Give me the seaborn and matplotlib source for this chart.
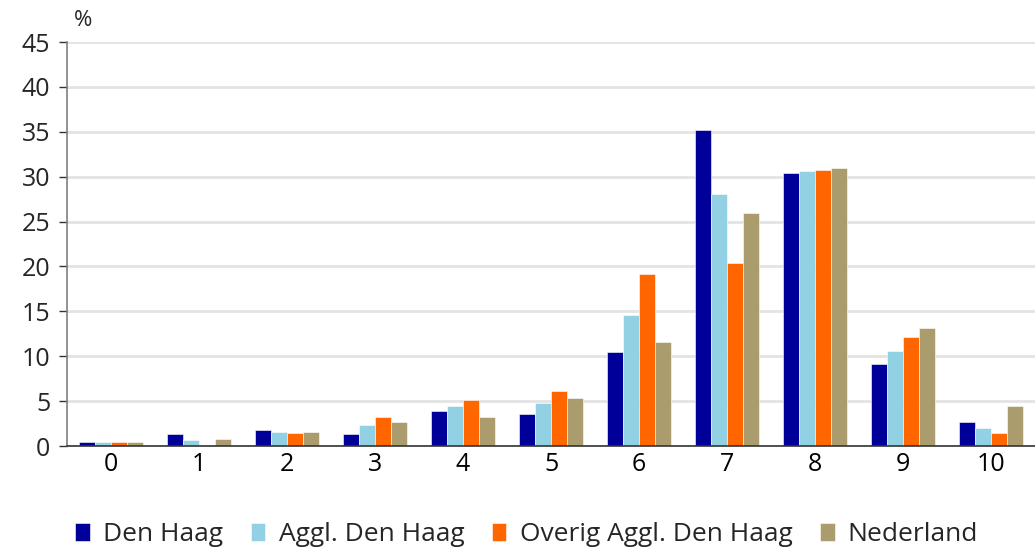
import numpy as np
import pandas as pd
import seaborn as sns
import matplotlib.pyplot as plt
from matplotlib.ticker import FixedLocator

categories = ["0", "1", "2", "3", "4", "5", "6", "7", "8", "9", "10"]
series = ["Den Haag", "Aggl. Den Haag", "Overig Aggl. Den Haag", "Nederland"]
den_haag = [0.5, 1.3, 1.75, 1.3, 3.9, 3.55, 10.45, 35.25, 30.45, 9.1, 2.65]
aggl = [0.45, 0.7, 1.6, 2.3, 4.45, 4.75, 14.6, 28.1, 30.6, 10.6, 2.0]
overig = [0.45, 0.0, 1.45, 3.25, 5.1, 6.1, 19.15, 20.4, 30.7, 12.1, 1.45]
nederland = [0.45, 0.8, 1.6, 2.7, 3.2, 5.4, 11.55, 25.95, 31.0, 13.1, 4.45]
colors = ["#000099", "#92D1E3", "#FF6600", "#AB9C6E"]

df = pd.DataFrame({
    "cijfer": categories * 4,
    "serie": np.repeat(series, len(categories)),
    "pct": den_haag + aggl + overig + nederland,
})

sns.set_style("white")
plt.rcParams["font.family"] = ["Open Sans", "DejaVu Sans"]

fig = plt.figure(figsize=(10.35, 5.49), dpi=100)
ax = fig.add_axes([67 / 1035, 103 / 549, 968 / 1035, 404 / 549])

sns.barplot(data=df, x="cijfer", y="pct", hue="serie", order=categories,
            hue_order=series, palette=colors, width=0.73, ax=ax,
            edgecolor="white", linewidth=0.4, saturation=1)

ax.set_xlim(-0.5, 10.5)
ax.set_ylim(0, 45)
ax.set_yticks(range(0, 46, 5))
ax.yaxis.grid(True, color="#e3e3e3", linewidth=2)
ax.set_axisbelow(True)
ax.set_xlabel("")
ax.set_ylabel("")
ax.xaxis.set_minor_locator(FixedLocator(np.arange(-0.5, 11, 1)))
ax.tick_params(axis="x", which="major", length=0, labelsize=18, pad=4, colors="black")
ax.tick_params(axis="x", which="minor", length=10, width=1.2, color="#333333", direction="out")
ax.tick_params(axis="y", length=6, width=1, color="#333333", labelsize=18, pad=6, left=True)
for s in ["top", "right"]:
    ax.spines[s].set_visible(False)
ax.spines["left"].set_color("#808080")
ax.spines["left"].set_linewidth(1.2)
ax.spines["bottom"].set_color("#333333")
ax.spines["bottom"].set_linewidth(1.2)

fig.text(83 / 1035, 1 - 20 / 549, "%", fontsize=16, ha="center", va="center")

handles, labels = ax.get_legend_handles_labels()
ax.legend(handles, labels, loc="center", bbox_to_anchor=(0.475, -0.22), ncol=4,
          frameon=False, fontsize=19, handlelength=0.55, handleheight=0.7,
          handletextpad=0.5, columnspacing=1.05)

fig.savefig("out.png", dpi=100)
